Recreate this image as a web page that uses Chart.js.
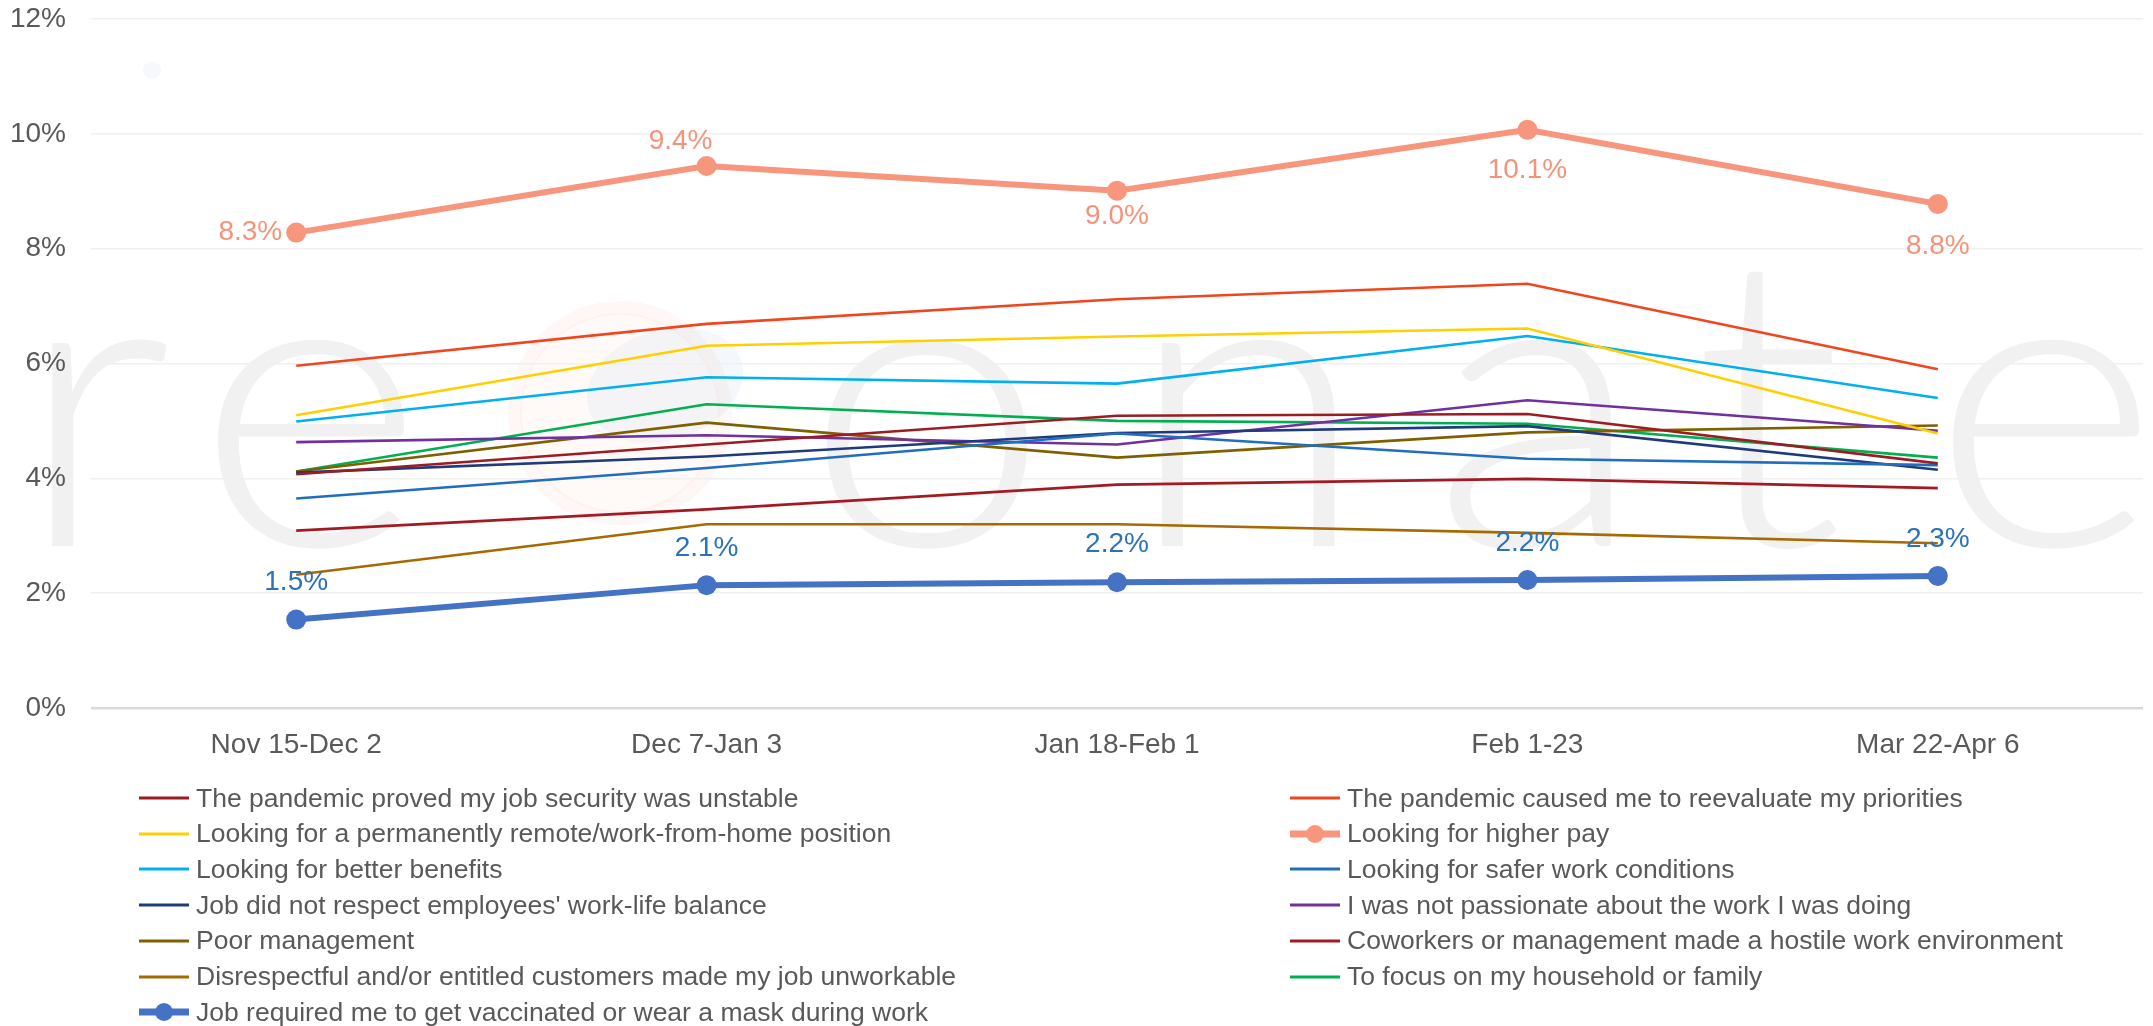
<!DOCTYPE html>
<html>
<head>
<meta charset="utf-8">
<title>Reasons for quitting</title>
<script src="https://cdn.jsdelivr.net/npm/chart.js@4.4.0/dist/chart.umd.min.js"></script>
<style>
  html, body { margin: 0; padding: 0; background: #fff; }
  #wrap { position: relative; width: 2153px; height: 1026px; }
  #legend {
    position: absolute; left: 0; top: 0; width: 100%; height: 100%;
    pointer-events: none;
    font-family: 'Liberation Sans', Arial, sans-serif;
    font-size: 26.5px; color: #595959;
  }
  .item { position: absolute; height: 36px; display: flex; align-items: center; white-space: nowrap; }
  .swatch { position: relative; width: 50px; height: 20px; margin-right: 7px; }
  .swatch .ln { position: absolute; left: 0; right: 0; top: 50%; transform: translateY(-50%); }
  .swatch .dot { position: absolute; left: 50%; top: 50%; width: 18px; height: 18px; border-radius: 50%; transform: translate(-50%, -50%); }
</style>
</head>
<body>
<div id="wrap">
  <canvas id="quitChart" width="2153" height="1026"></canvas>
  <div id="legend"></div>
</div>
<script>
// ── Data (percent of respondents) ──
const periods = ['Nov 15-Dec 2', 'Dec 7-Jan 3', 'Jan 18-Feb 1', 'Feb 1-23', 'Mar 22-Apr 6'];
const yTicks = [0, 2, 4, 6, 8, 10, 12];

const jobSecurity   = [4.07, 4.59, 5.09, 5.12, 4.26];
const reevaluate    = [5.96, 6.69, 7.12, 7.39, 5.90];
const remoteWork    = [5.10, 6.31, 6.47, 6.61, 4.78];
const higherPay     = [8.28, 9.44, 9.01, 10.07, 8.78];
const betterBenefit = [4.99, 5.76, 5.65, 6.48, 5.40];
const saferWork     = [3.65, 4.18, 4.78, 4.34, 4.23];
const workLife      = [4.10, 4.38, 4.79, 4.91, 4.15];
const notPassionate = [4.63, 4.75, 4.59, 5.36, 4.83];
const poorMgmt      = [4.12, 4.97, 4.36, 4.80, 4.92];
const hostileEnv    = [3.09, 3.46, 3.89, 3.99, 3.83];
const customers     = [2.32, 3.20, 3.20, 3.05, 2.87];
const familyFocus   = [4.12, 5.29, 5.00, 4.95, 4.36];
const vaccineMask   = [1.54, 2.14, 2.19, 2.23, 2.30];

// label placement for the two highlighted series
const payLabelPlace = ['left', 'above', 'below', 'below', 'below'];
const payLabelGap   = [14, 25, 26, 40, 42];
const payLabelShift = [0, -26, 0, 0, 0];
const vaxLabelPlace = ['above', 'above', 'above', 'above', 'above'];
const vaxLabelGap   = [37, 37, 38, 37, 37];
const vaxLabelShift = [0, 0, 0, 0, 0];

const FONT = "'Liberation Sans', Arial, sans-serif";
const GREY_TEXT = '#595959';

function thin(label, data, color) {
  return { label, data, borderColor: color, backgroundColor: color, borderWidth: 2.6, pointRadius: 0, tension: 0 };
}
function thick(label, data, color, labelColor, place, gap, shift) {
  return {
    label, data, borderColor: color, backgroundColor: color, borderWidth: 6,
    pointRadius: 10, pointBackgroundColor: color, pointBorderWidth: 0, tension: 0,
    valueLabels: { color: labelColor, place, gap, shift }
  };
}

const datasets = [
  thin('The pandemic proved my job security was unstable', jobSecurity, '#9C1C24'),
  thin('The pandemic caused me to reevaluate my priorities', reevaluate, '#F0461E'),
  thin('Looking for a permanently remote/work-from-home position', remoteWork, '#FFD000'),
  thick('Looking for higher pay', higherPay, '#F7967C', '#F4937A', payLabelPlace, payLabelGap, payLabelShift),
  thin('Looking for better benefits', betterBenefit, '#00B0F0'),
  thin('Looking for safer work conditions', saferWork, '#1F6EBF'),
  thin('Job did not respect employees\' work-life balance', workLife, '#1F3A7D'),
  thin('I was not passionate about the work I was doing', notPassionate, '#7030A0'),
  thin('Poor management', poorMgmt, '#7F6000'),
  thin('Coworkers or management made a hostile work environment', hostileEnv, '#A31A22'),
  thin('Disrespectful and/or entitled customers made my job unworkable', customers, '#A56A00'),
  thin('To focus on my household or family', familyFocus, '#00B050'),
  thick('Job required me to get vaccinated or wear a mask during work', vaccineMask, '#4472C4', '#2B72BA', vaxLabelPlace, vaxLabelGap, vaxLabelShift)
];

// ── Watermark "resonate" behind the plot ──
const watermark = {
  id: 'watermark',
  beforeDraw(chart) {
    const ctx = chart.ctx;
    ctx.save();
    ctx.fillStyle = '#ffffff';
    ctx.fillRect(0, 0, chart.width, chart.height);
    // faint logo in place of the "s"
    ctx.strokeStyle = 'rgba(247,150,124,0.08)';
    ctx.lineWidth = 14;
    ctx.beginPath(); ctx.arc(620, 413, 105, 0, Math.PI * 2); ctx.stroke();
    ctx.fillStyle = 'rgba(247,150,124,0.05)';
    ctx.beginPath(); ctx.arc(620, 413, 100, 0, Math.PI * 2); ctx.fill();
    ctx.fillStyle = 'rgba(120,170,220,0.08)';
    ctx.beginPath(); ctx.ellipse(665, 385, 80, 55, -0.3, 0, Math.PI * 2); ctx.fill();
    ctx.fillStyle = 'rgba(120,170,220,0.07)';
    ctx.beginPath(); ctx.arc(152, 70, 9, 0, Math.PI * 2); ctx.fill();

    ctx.fillStyle = '#f1f1f1';
    ctx.font = "300 408px Lato, Roboto, 'Open Sans', sans-serif";
    ctx.textAlign = 'center';
    ctx.textBaseline = 'alphabetic';
    const letters = [['r', 94], ['e', 310], ['o', 927], ['n', 1247], ['a', 1538], ['t', 1768], ['e', 2045]];
    letters.forEach(([ch, x]) => {
      ctx.save();
      ctx.translate(x, 546);
      ctx.scale(1.08, 1);
      ctx.fillText(ch, 0, 0);
      ctx.restore();
    });
    ctx.restore();
  }
};

// ── Value labels on the highlighted lines ──
const valueLabels = {
  id: 'valueLabels',
  afterDatasetsDraw(chart) {
    const ctx = chart.ctx;
    ctx.save();
    ctx.font = '28px ' + FONT;
    chart.data.datasets.forEach((ds, i) => {
      if (!ds.valueLabels) return;
      const cfg = ds.valueLabels;
      const meta = chart.getDatasetMeta(i);
      ctx.fillStyle = cfg.color;
      meta.data.forEach((pt, j) => {
        const txt = ds.data[j].toFixed(1) + '%';
        const place = cfg.place[j];
        const gap = cfg.gap[j];
        const dx = cfg.shift[j];
        ctx.textBaseline = 'middle';
        if (place === 'left') {
          ctx.textAlign = 'right';
          ctx.fillText(txt, pt.x - gap + dx, pt.y);
        } else {
          ctx.textAlign = 'center';
          ctx.fillText(txt, pt.x + dx, place === 'above' ? pt.y - gap : pt.y + gap);
        }
      });
    });
    ctx.restore();
  }
};

const ctx = document.getElementById('quitChart').getContext('2d');
const chart = new Chart(ctx, {
  type: 'line',
  data: { labels: periods, datasets },
  options: {
    responsive: false,
    animation: false,
    layout: { padding: { top: 19, right: 0, bottom: 238, left: 0 } },
    plugins: { legend: { display: false }, tooltip: { enabled: false } },
    scales: {
      x: {
        offset: true,
        grid: { display: false, drawTicks: false },
        border: { display: false },
        ticks: { color: GREY_TEXT, font: { family: FONT, size: 28 }, padding: 20, maxRotation: 0 },
        afterFit(scale) {
          scale.height = 80;
          scale.paddingLeft = 0;
          scale.paddingRight = 0;
        }
      },
      y: {
        min: 0, max: 12,
        afterBuildTicks(scale) { scale.ticks = yTicks.map(v => ({ value: v })); },
        grid: {
          drawTicks: false,
          color: c => (c.tick && c.tick.value === 0 ? '#d9d9d9' : '#f0f0f0'),
          lineWidth: c => (c.tick && c.tick.value === 0 ? 2.5 : 1.5)
        },
        border: { display: false },
        ticks: { color: GREY_TEXT, font: { family: FONT, size: 28 }, padding: 25, callback: v => v + '%' },
        afterFit(scale) {
          scale.width = 91;
          scale.paddingTop = 0;
          scale.paddingBottom = 0;
        }
      }
    }
  },
  plugins: [watermark, valueLabels]
});

// ── HTML legend, two columns in row order ──
const legendEl = document.getElementById('legend');
const colX = [139, 1290];
const rowTop = 780;
const rowStep = 35.7;
datasets.forEach((ds, i) => {
  const item = document.createElement('div');
  item.className = 'item';
  item.style.left = colX[i % 2] + 'px';
  item.style.top = (rowTop + Math.floor(i / 2) * rowStep) + 'px';
  const sw = document.createElement('div');
  sw.className = 'swatch';
  const ln = document.createElement('div');
  ln.className = 'ln';
  ln.style.height = (ds.valueLabels ? 7 : 3) + 'px';
  ln.style.background = ds.borderColor;
  sw.appendChild(ln);
  if (ds.valueLabels) {
    const dot = document.createElement('div');
    dot.className = 'dot';
    dot.style.background = ds.borderColor;
    sw.appendChild(dot);
  }
  const txt = document.createElement('span');
  txt.textContent = ds.label;
  item.appendChild(sw);
  item.appendChild(txt);
  legendEl.appendChild(item);
});
</script>
</body>
</html>
